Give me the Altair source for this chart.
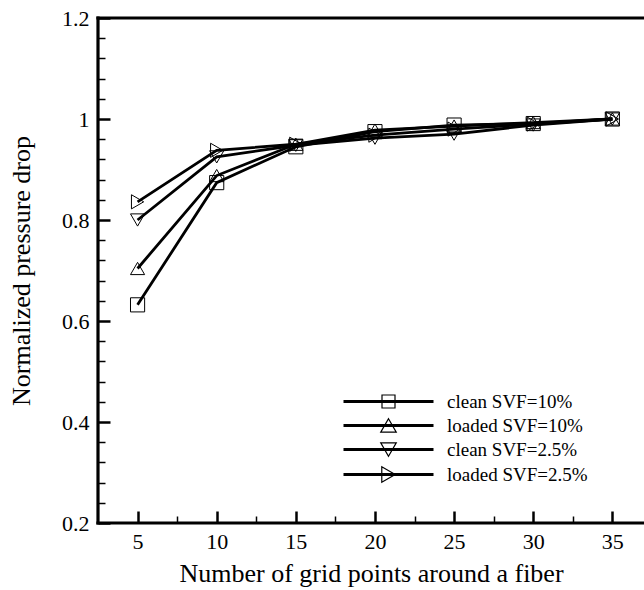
import altair as alt
import pandas as pd

# ---------------- data ----------------
grid_points = [5, 10, 15, 20, 25, 30, 35]
series_names = ["clean SVF=10%", "loaded SVF=10%", "clean SVF=2.5%", "loaded SVF=2.5%"]
clean_10 = [0.632, 0.874, 0.945, 0.975, 0.988, 0.991, 1.000]
loaded_10 = [0.704, 0.888, 0.950, 0.978, 0.986, 0.993, 1.000]
clean_25 = [0.800, 0.925, 0.948, 0.962, 0.970, 0.988, 1.000]
loaded_25 = [0.836, 0.938, 0.950, 0.968, 0.980, 0.990, 1.000]

x_domain = [2.5, 37.0]
y_domain = [0.2, 1.2]
x_major = [5, 10, 15, 20, 25, 30, 35]
x_minor = [7.5, 12.5, 17.5, 22.5, 27.5, 32.5]
y_major = [0.2, 0.4, 0.6, 0.8, 1.0, 1.2]
y_minor = [0.24, 0.28, 0.32, 0.36, 0.44, 0.48, 0.52, 0.56, 0.64, 0.68,
           0.72, 0.76, 0.84, 0.88, 0.92, 0.96, 1.04, 1.08, 1.12, 1.16]

x_title = "Number of grid points around a fiber"
y_title = "Normalized pressure drop"

plot_shapes = ["square", "triangle-up", "triangle-down", "triangle-right"]
# legend symbols: a horizontal line with the marker outline in the middle
_line = "M-5.625,-0.125H5.625M-5.625,0H5.625M-5.625,0.125H5.625"
legend_shapes = [
    _line + "M-0.8125,-0.8125H0.8125V0.8125H-0.8125Z",
    _line + "M0,-0.84L0.97,0.84L-0.97,0.84Z",
    _line + "M0,0.84L0.97,-0.84L-0.97,-0.84Z",
    _line + "M0.84,0L-0.84,-0.97L-0.84,0.97Z",
]

rows = []
for name, vals in zip(series_names, [clean_10, loaded_10, clean_25, loaded_25]):
    for i, (xv, yv) in enumerate(zip(grid_points, vals)):
        rows.append({"series": name, "x": xv, "y": yv, "order": i})
df = pd.DataFrame(rows)

# frame edges (left, bottom, top) built from the axis domains
frame_df = pd.DataFrame({
    "x": [x_domain[0], x_domain[0], x_domain[0]],
    "x2": [x_domain[0], x_domain[1], x_domain[1]],
    "y": [y_domain[0], y_domain[0], y_domain[1]],
    "y2": [y_domain[1], y_domain[0], y_domain[1]],
})

FONT = "Liberation Serif"
xscale = alt.Scale(domain=x_domain, nice=False, zero=False)
yscale = alt.Scale(domain=y_domain, nice=False, zero=False)

x_main_axis = alt.Axis(orient="bottom", values=x_major, ticks=False, tickSize=0,
                       domain=False, labelFont=FONT, labelFontSize=22,
                       labelColor="black", labelPadding=8, labelFlush=False,
                       labelOverlap=False, grid=False, titleFont=FONT,
                       titleFontSize=26, titleFontWeight="normal",
                       titleColor="black", titlePadding=8)
y_main_axis = alt.Axis(orient="left", values=y_major, format="~g", ticks=False,
                       tickSize=0, domain=False, labelFont=FONT,
                       labelFontSize=22, labelColor="black", labelPadding=9,
                       labelFlush=False, labelOverlap=False, grid=False,
                       titleFont=FONT, titleFontSize=26,
                       titleFontWeight="normal", titleColor="black",
                       titlePadding=27)

x_major_axis = alt.Axis(orient="bottom", values=x_major, offset=-12, tickSize=12,
                        tickWidth=2.5, tickColor="black", domain=False,
                        labels=False, grid=False)
y_major_axis = alt.Axis(orient="left", values=y_major, offset=-12, tickSize=12,
                        tickWidth=2.5, tickColor="black", domain=False,
                        labels=False, grid=False)
x_minor_axis = alt.Axis(orient="bottom", values=x_minor, offset=-7, tickSize=7,
                        tickWidth=1.5, tickColor="black", domain=False,
                        labels=False, grid=False)
y_minor_axis = alt.Axis(orient="left", values=y_minor, offset=-7, tickSize=7,
                        tickWidth=1.5, tickColor="black", domain=False,
                        labels=False, grid=False)

lines = alt.Chart(df).mark_line(color="black", strokeWidth=2.8).encode(
    x=alt.X("x:Q", scale=xscale, axis=x_main_axis, title=x_title),
    y=alt.Y("y:Q", scale=yscale, axis=y_main_axis, title=y_title),
    detail="series:N",
    order="order:Q",
)

points = alt.Chart(df).mark_point(filled=False, color="black", strokeWidth=1,
                                  size=200, opacity=1).encode(
    x=alt.X("x:Q", axis=x_major_axis, title=None),
    y=alt.Y("y:Q", axis=y_major_axis, title=None),
    shape=alt.Shape("series:N", scale=alt.Scale(domain=series_names, range=plot_shapes),
                    legend=None),
)

legend_layer = alt.Chart(df).transform_filter("false").mark_point(
    filled=False, color="black", strokeWidth=1.2, size=256, opacity=1
).encode(
    x=alt.X("x:Q", axis=x_minor_axis, title=None),
    y=alt.Y("y:Q", axis=y_minor_axis, title=None),
    shape=alt.Shape("series:N",
                    scale=alt.Scale(domain=series_names, range=legend_shapes),
                    legend=alt.Legend(orient="none", legendX=281, legendY=374,
                                      title=None, labelFont=FONT, labelFontSize=19,
                                      labelColor="black", labelOffset=49,
                                      rowPadding=4, symbolSize=256,
                                      symbolStrokeWidth=1.2,
                                      symbolStrokeColor="black", padding=0)),
)

frame = alt.Chart(frame_df).mark_rule(color="black", strokeWidth=3.2,
                                      strokeCap="square").encode(
    x=alt.X("x:Q", axis=None),
    x2="x2:Q",
    y=alt.Y("y:Q", axis=None),
    y2="y2:Q",
)

chart = alt.layer(lines, points, legend_layer, frame).resolve_scale(
    shape="independent"
).resolve_axis(
    x="independent", y="independent"
).properties(
    width=546, height=505,
    autosize=alt.AutoSizeParams(type="none"),
    padding={"left": 98, "top": 18, "right": 0, "bottom": 67},
    background="white",
).configure_view(stroke=None)

chart.save("out.html", embed_options={"renderer": "svg", "actions": False})
